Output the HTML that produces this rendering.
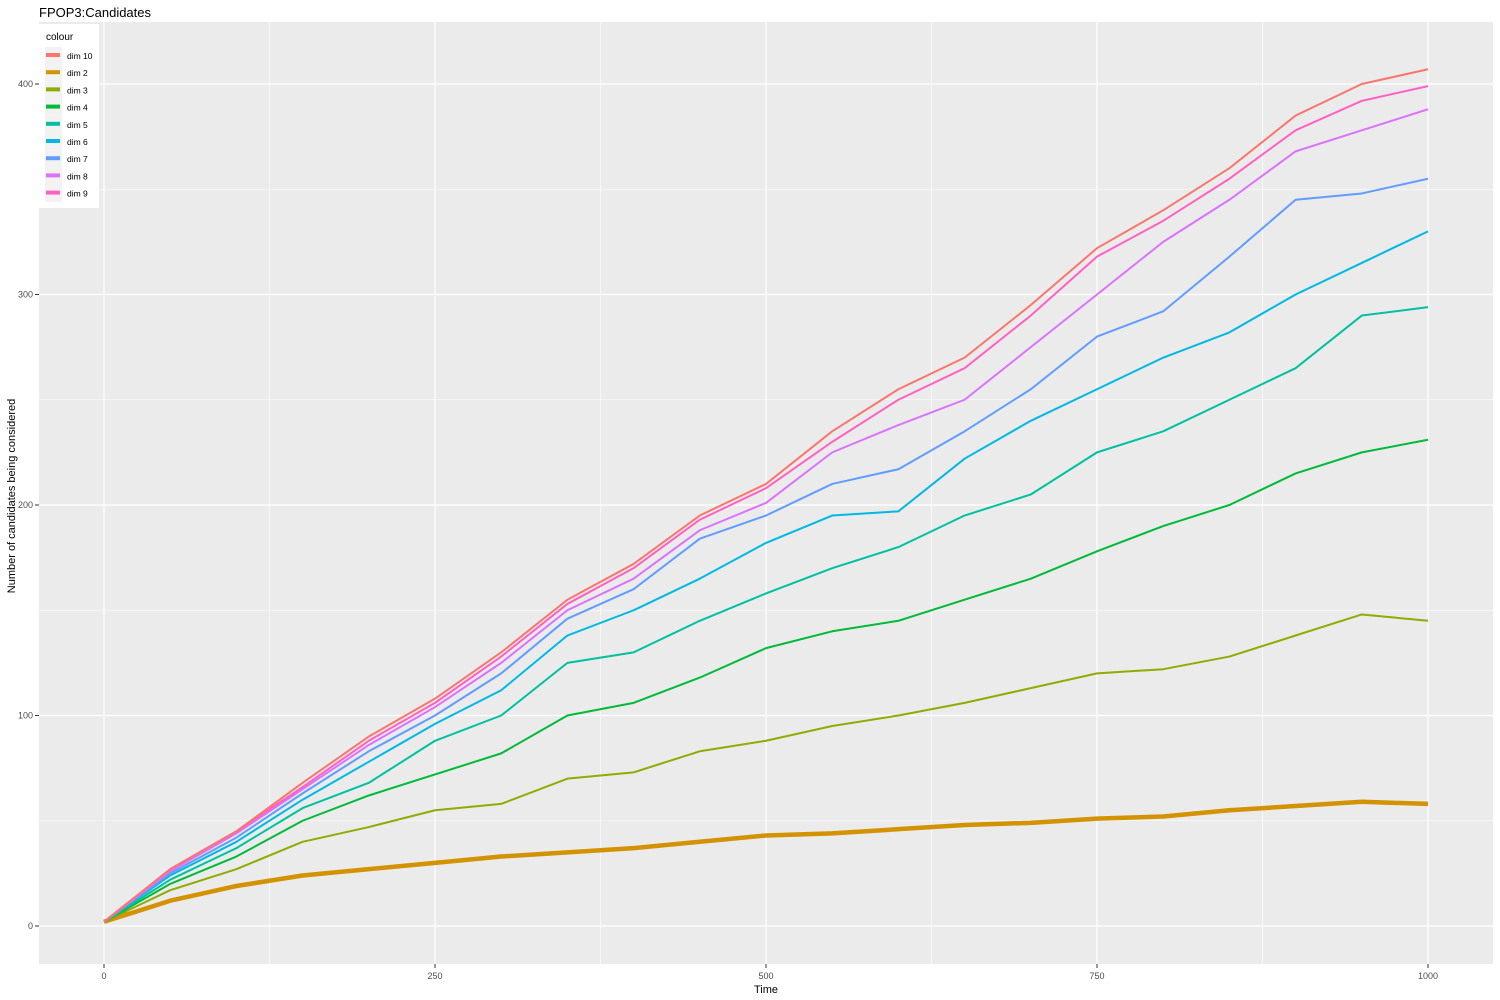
<!DOCTYPE html>
<html><head><meta charset="utf-8"><style>
body{margin:0;background:#fff;font-family:"Liberation Sans",Arial,sans-serif}
svg{display:block}
</style></head><body>
<svg id="chart" width="1500" height="1000">
<text x="39" y="17" font-size="13" fill="#000">FPOP3:Candidates</text>
<rect x="39" y="22" width="1454" height="942" fill="#ebebeb"/>
<g id="grid"></g><g id="series"></g><g id="axes"></g>
<text x="766" y="993" font-size="11" text-anchor="middle">Time</text>
<text transform="translate(15,496) rotate(-90)" font-size="11" text-anchor="middle">Number of candidates being considered</text>
<g id="legend"></g>
</svg>
<script>
const times=[0,50,100,150,200,250,300,350,400,450,500,550,600,650,700,750,800,850,900,950,1000];
const dim2=[2,12,19,24,27,30,33,35,37,40,43,44,46,48,49,51,52,55,57,59,58];
const dim3=[2,17,27,40,47,55,58,70,73,83,88,95,100,106,113,120,122,128,138,148,145];
const dim4=[2,20,33,50,62,72,82,100,106,118,132,140,145,155,165,178,190,200,215,225,231];
const dim5=[2,22,37,56,68,88,100,125,130,145,158,170,180,195,205,225,235,250,265,290,294];
const dim6=[2,24,40,60,78,96,112,138,150,165,182,195,197,222,240,255,270,282,300,315,330];
const dim7=[2,25,42,63,83,100,120,146,160,184,195,210,217,235,255,280,292,318,345,348,355];
const dim8=[2,26,44,65,86,104,125,150,165,188,201,225,238,250,275,300,325,345,368,378,388];
const dim9=[2,27,45,66,88,106,128,153,170,193,208,230,250,265,290,318,335,355,378,392,399];
const dim10=[2,27,45,68,90,108,130,155,172,195,210,235,255,270,295,322,340,360,385,400,407];
const xTicks=[0,250,500,750,1000];
const yTicks=[0,100,200,300,400];
const legendLabels=["dim 10","dim 2","dim 3","dim 4","dim 5","dim 6","dim 7","dim 8","dim 9"];
const colors=["#F8766D","#D39200","#93AA00","#00BA38","#00C19F","#00B9E3","#619CFF","#DB72FB","#FF61C3"];
const NS="http://www.w3.org/2000/svg";
const X=t=>104+t*1.324, Y=v=>926-v*2.105;
function mk(tag,attrs,parent){const e=document.createElementNS(NS,tag);for(const k in attrs)e.setAttribute(k,attrs[k]);parent.appendChild(e);return e;}
const grid=document.getElementById('grid'),axes=document.getElementById('axes');
xTicks.forEach((t,i)=>{
 if(i<xTicks.length-1){const m=mk('line',{x1:X(t+125),x2:X(t+125),y1:22,y2:964,stroke:'#fff','stroke-width':0.6},grid);
 }
 const l=mk('line',{x1:X(t),x2:X(t),y1:22,y2:964,stroke:'#fff','stroke-width':1.2},grid);
 
 mk('line',{x1:X(t),x2:X(t),y1:964,y2:968,stroke:'#333'},axes);
 const tx=mk('text',{x:X(t),y:979,'font-size':9,'text-anchor':'middle',fill:'#4d4d4d'},axes);tx.textContent=t;
 
});
yTicks.forEach((v,i)=>{
 if(i<yTicks.length-1){const m=mk('line',{x1:39,x2:1493,y1:Y(v+50),y2:Y(v+50),stroke:'#fff','stroke-width':0.6},grid);
 }
 const l=mk('line',{x1:39,x2:1493,y1:Y(v),y2:Y(v),stroke:'#fff','stroke-width':1.2},grid);
 
 mk('line',{x1:35,x2:39,y1:Y(v),y2:Y(v),stroke:'#333'},axes);
 const tx=mk('text',{x:33,y:Y(v)+3,'font-size':9,'text-anchor':'end',fill:'#4d4d4d'},axes);tx.textContent=v;
 
});
const series=[dim2,dim3,dim4,dim5,dim6,dim7,dim8,dim9,dim10];
const sColors=[colors[1],colors[2],colors[3],colors[4],colors[5],colors[6],colors[7],colors[8],colors[0]];
const sNames=["dim-2","dim-3","dim-4","dim-5","dim-6","dim-7","dim-8","dim-9","dim-10"];
const sg=document.getElementById('series');
series.forEach((d,i)=>{
 const p=mk('polyline',{points:d.map((v,j)=>X(times[j])+','+Y(v)).join(' '),fill:'none',stroke:sColors[i],'stroke-width':i==0?4.5:2,'stroke-linejoin':'round'},sg);
 
 
});
const lg=document.getElementById('legend');
mk('rect',{x:39,y:24,width:60,height:184,fill:'#fff'},lg);
const lt=mk('text',{x:46,y:40,'font-size':10},lg);lt.textContent='colour';

legendLabels.forEach((lab,i)=>{
 const y=47+i*17.2;
 mk('rect',{x:45,y:y,width:17,height:17.2,fill:'#f2f2f2'},lg);
 const k=mk('rect',{x:46,y:y+6,width:14,height:4,fill:colors[i]},lg);
 
 const t=mk('text',{x:67,y:y+12,'font-size':8.5},lg);t.textContent=lab;
 
});
</script>
</body></html>
